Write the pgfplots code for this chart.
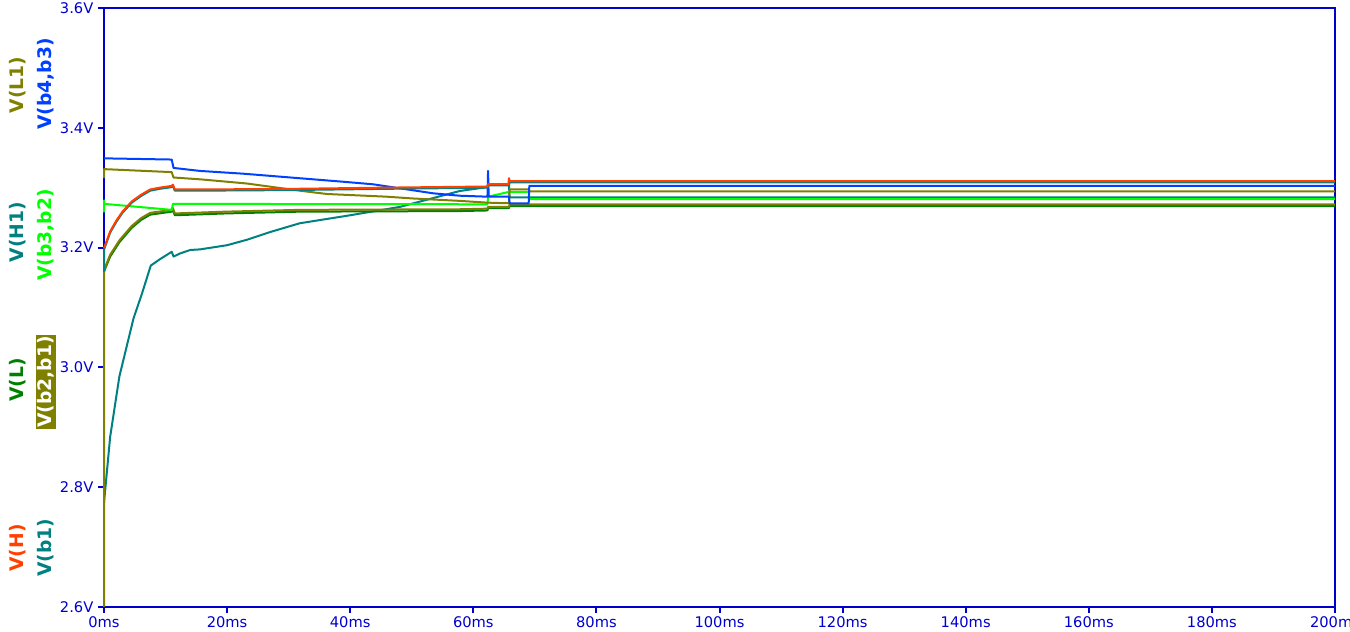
\documentclass[border=0pt]{standalone}
\usepackage{pgfplots}
\pgfplotsset{compat=1.18}
\usepackage{fontspec}
\setmainfont{DejaVu Sans}
\definecolor{axb}{RGB}{0,0,204}
\definecolor{cH}{RGB}{255,64,0}
\definecolor{cteal}{RGB}{0,128,128}
\definecolor{colive}{RGB}{128,128,0}
\definecolor{cgreen}{RGB}{0,128,0}
\definecolor{clime}{RGB}{0,255,0}
\definecolor{cblue}{RGB}{0,64,255}
\begin{document}
\begin{tikzpicture}
\begin{axis}[
  scale only axis, width=923.25pt, height=449.25pt,
  xmin=0, xmax=200, ymin=2.6, ymax=3.6,
  axis line style={draw=axb, line width=1.5pt},
  xtick={0,20,40,60,80,100,120,140,160,180,200},
  xticklabels={0ms,20ms,40ms,60ms,80ms,100ms,120ms,140ms,160ms,180ms,200ms},
  ytick={2.6,2.8,3.0,3.2,3.4,3.6},
  yticklabels={2.6V,2.8V,3.0V,3.2V,3.4V,3.6V},
  tick align=outside, xtick pos=bottom, ytick pos=left,
  major tick length=4.5pt,
  tick style={draw=axb, line width=1.5pt},
  tick label style={font=\fontsize{11}{13}\selectfont, text=axb},
  xticklabel style={yshift=1pt},
  clip=false,
  every axis plot/.append style={line width=1.5pt, line join=round},
]
% V(H1) teal lower
\addplot[cteal] coordinates {(0,2.774) (1,2.884) (2.5,2.985) (4.8,3.082) (6.1,3.121) (7.6,3.170) (9,3.180) (11,3.193) (11.3,3.185) (12.3,3.190) (14,3.196) (15.6,3.197) (20,3.204) (23.2,3.213) (27,3.226) (31.8,3.2406) (40,3.254) (48.1,3.268) (57.8,3.2945) (62.3,3.301) (62.4,3.305) (65.8,3.305) (65.9,3.284) (200,3.284)};
% V(L) green
\addplot[cgreen] coordinates {(0,3.160) (1,3.185) (2.5,3.209) (4.5,3.233) (6,3.246) (7.5,3.255) (11,3.260) (11.2,3.263) (11.5,3.254) (19.7,3.257) (31.8,3.260) (57.8,3.261) (62.3,3.262) (62.4,3.266) (65.8,3.266) (65.9,3.2694) (200,3.2694)};
% V(b2,b1) olive
\addplot[colive] coordinates {(0,2.600) (0.02,3.163) (1,3.188) (2.5,3.212) (4.5,3.236) (6,3.249) (7.5,3.258) (11,3.263) (11.2,3.266) (11.5,3.257) (19.7,3.260) (31.8,3.263) (57.8,3.264) (62.3,3.265) (62.4,3.268) (65.8,3.268) (65.9,3.2723) (200,3.2723)};
% V(b3,b2) lime
\addplot[clime] coordinates {(0,3.259) (0.01,3.279) (0.03,3.273) (11,3.263) (11.2,3.273) (62.3,3.2723) (62.4,3.285) (65.8,3.293) (69,3.293) (69.1,3.281) (200,3.281)};
% V(L1) olive
\addplot[colive] coordinates {(0,3.316) (0.02,3.331) (11,3.326) (11.3,3.317) (15.6,3.314) (23.2,3.307) (31.8,3.295) (36.2,3.2895) (45.9,3.285) (50.2,3.282) (57.8,3.278) (62.3,3.275) (65.8,3.274) (65.9,3.297) (69,3.297) (69.1,3.294) (200,3.294)};
% V(b4,b3) blue
\addplot[cblue] coordinates {(0,3.349) (11,3.347) (11.3,3.333) (15.6,3.328) (22.6,3.3234) (38.8,3.310) (43.7,3.3057) (53.5,3.2906) (57.8,3.2866) (62.3,3.285) (62.4,3.328) (62.5,3.285) (65.8,3.285) (65.9,3.274) (69,3.274) (69.1,3.303) (200,3.303)};
% V(b1) teal upper
\addplot[cteal] coordinates {(0,3.160) (0.02,3.197) (1,3.225) (2,3.243) (3,3.258) (4.5,3.275) (6,3.286) (7.5,3.295) (9,3.298) (11,3.301) (11.2,3.303) (11.5,3.295) (15,3.295) (30,3.296) (45,3.298) (62.3,3.300) (62.4,3.304) (65.8,3.304) (65.9,3.309) (200,3.309)};
% V(H) orange
\addplot[cH] coordinates {(0,3.199) (1,3.227) (2,3.245) (3,3.260) (4.5,3.277) (6,3.288) (7.5,3.297) (9,3.300) (11,3.303) (11.2,3.305) (11.5,3.297) (15,3.297) (30,3.298) (45,3.300) (62.3,3.302) (62.4,3.306) (65.7,3.306) (65.8,3.316) (65.9,3.311) (200,3.311)};
\end{axis}
\begin{scope}[every node/.style={rotate=90, font=\fontsize{14}{16}\selectfont\bfseries, inner sep=1pt}]
\node[text=colive] at (-64.5pt,391.5pt) {V(L1)};
\node[text=cblue] at (-43.5pt,392.25pt) {V(b4,b3)};
\node[text=cteal] at (-64.5pt,281.25pt) {V(H1)};
\node[text=clime] at (-43.5pt,279pt) {V(b3,b2)};
\node[text=cgreen] at (-64.5pt,170.25pt) {V(L)};
\node[text=white, fill=colive] at (-43.5pt,168.75pt) {V(b2,b1)};
\node[text=cH] at (-64.5pt,44.25pt) {V(H)};
\node[text=cteal] at (-43.5pt,44.25pt) {V(b1)};
\end{scope}
\pgfresetboundingbox
\path[use as bounding box] (-78pt,-18.75pt) rectangle (934.5pt,455.25pt);
\end{tikzpicture}
\end{document}
